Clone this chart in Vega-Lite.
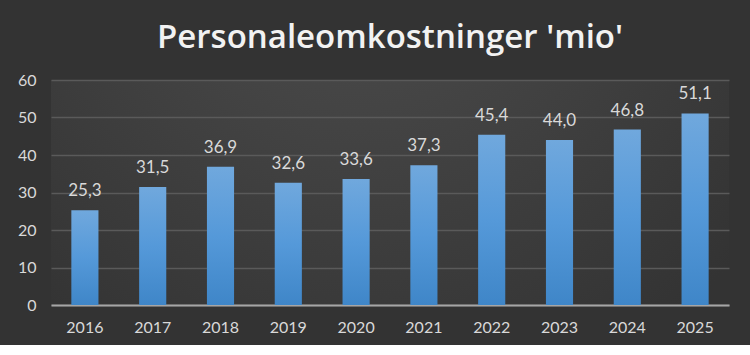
{
  "$schema": "https://vega.github.io/schema/vega-lite/v6.json",
  "width": 678,
  "height": 225,
  "padding": {"left": 17, "right": 22, "top": 22, "bottom": 10},
  "background": "#333333",
  "title": {
    "text": "Personaleomkostninger 'mio'",
    "font": "Open Sans",
    "fontSize": 33,
    "fontWeight": 600,
    "color": "#f2f2f2",
    "offset": 17,
    "anchor": "middle"
  },
  "config": {
    "locale": {"number": {"decimal": ",", "thousands": ".", "grouping": [3], "currency": ["", " kr."]}},
    "view": {"stroke": null, "fill": {"gradient": "radial", "x1": 0.45, "y1": 0.1, "r1": 0, "x2": 0.45, "y2": 0.1, "r2": 0.75, "stops": [{"offset": 0, "color": "#4e4e4e"}, {"offset": 1, "color": "#333333"}]}}
  },
  "data": {
    "values": [
      {"year": "2016", "value": 25.3},
      {"year": "2017", "value": 31.5},
      {"year": "2018", "value": 36.9},
      {"year": "2019", "value": 32.6},
      {"year": "2020", "value": 33.6},
      {"year": "2021", "value": 37.3},
      {"year": "2022", "value": 45.4},
      {"year": "2023", "value": 44.0},
      {"year": "2024", "value": 46.8},
      {"year": "2025", "value": 51.1}
    ]
  },
  "encoding": {
    "x": {
      "field": "year", "type": "ordinal", "title": null,
      "scale": {"paddingInner": 0.6, "paddingOuter": 0.3},
      "axis": {"labelAngle": 0, "labelFont": "Lato", "labelFontSize": 16, "labelColor": "#d9d9d9", "ticks": false, "domainColor": "#a6a6a6", "domainWidth": 2, "labelPadding": 14}
    },
    "y": {
      "field": "value", "type": "quantitative", "title": null,
      "scale": {"domain": [0, 60]},
      "axis": {"values": [0, 10, 20, 30, 40, 50, 60], "labelFont": "Lato", "labelFontSize": 16, "labelColor": "#d9d9d9", "ticks": false, "domain": false, "gridColor": "#5a5a5a", "gridWidth": 1.5, "labelPadding": 15}
    }
  },
  "layer": [
    {
      "mark": {"type": "bar", "color": {"gradient": "linear", "x1": 0, "y1": 0, "x2": 0, "y2": 1, "stops": [{"offset": 0, "color": "#70a8dd"}, {"offset": 0.5, "color": "#5599d9"}, {"offset": 1, "color": "#3f86c8"}]}}
    },
    {
      "mark": {"type": "text", "dy": -19, "font": "Lato", "fontSize": 17, "color": "#d9d9d9"},
      "encoding": {"text": {"field": "value", "type": "quantitative", "format": ".1f"}}
    }
  ]
}
